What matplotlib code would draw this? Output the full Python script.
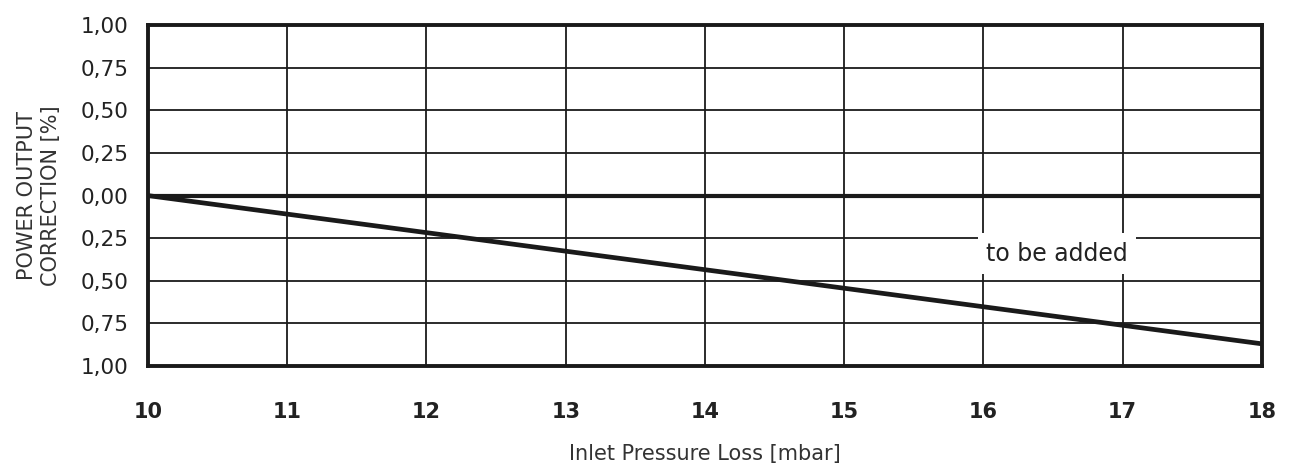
import matplotlib
matplotlib.use("Agg")
import matplotlib.pyplot as plt

# data
pressure_loss = [10, 18]            # mbar
correction = [0.0, -0.87]           # %
x_ticks = [10, 11, 12, 13, 14, 15, 16, 17, 18]
y_ticks = [1.0, 0.75, 0.5, 0.25, 0.0, -0.25, -0.5, -0.75, -1.0]
y_tick_labels = ["1,00", "0,75", "0,50", "0,25", "0,00", "0,25", "0,50", "0,75", "1,00"]

plt.rcParams["font.family"] = "DejaVu Sans"

fig = plt.figure(figsize=(12.89, 4.75), dpi=100)
ax = fig.add_axes([0.1148, 0.2295, 0.8642, 0.7175])

ax.set_xlim(10, 18)
ax.set_ylim(-1, 1)
ax.set_xticks(x_ticks)
ax.set_yticks(y_ticks)
ax.set_xticklabels([str(t) for t in x_ticks], fontsize=15, fontweight="bold", color="#222222")
ax.set_yticklabels(y_tick_labels, fontsize=15.5, color="#222222")
ax.tick_params(axis="x", length=0, pad=26)
ax.tick_params(axis="y", length=0, pad=14)

ax.grid(True, color="#1a1a1a", linewidth=1.3)
ax.set_axisbelow(True)
for s in ax.spines.values():
    s.set_linewidth(2.8)
    s.set_color("#1a1a1a")

# zero reference line
ax.axhline(0, color="#1a1a1a", linewidth=3)
# correction curve
ax.plot(pressure_loss, correction, color="#1a1a1a", linewidth=3.4, solid_capstyle="butt")

ax.text(16.53, -0.34, "to be added", fontsize=17, ha="center", va="center", color="#222222",
        bbox=dict(facecolor="white", edgecolor="none", pad=6))

ax.set_ylabel("POWER OUTPUT\nCORRECTION [%]", fontsize=15, color="#333333", linespacing=1.25, labelpad=14)
ax.set_xlabel("Inlet Pressure Loss [mbar]", fontsize=15, color="#333333", labelpad=16)

fig.savefig("out.png", dpi=100)
